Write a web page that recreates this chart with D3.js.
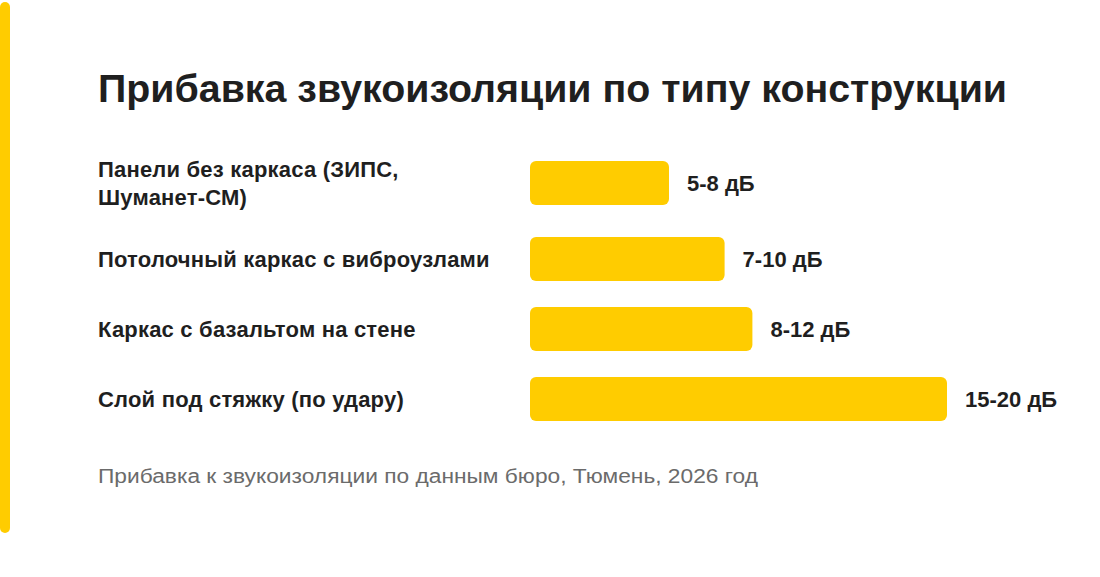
<!DOCTYPE html>
<html>
<head>
<meta charset="utf-8">
<script src="https://cdn.jsdelivr.net/npm/d3@7"></script>
<style>
  body { margin: 0; background: #fff; }
  svg { display: block; font-family: "Liberation Sans", Arial, Helvetica, sans-serif; }
</style>
</head>
<body>
<div id="chart_area"></div>
<script>
// data
var categories = [
    "Панели без каркаса (ЗИПС, Шуманет-СМ)",
    "Потолочный каркас с виброузлами",
    "Каркас с базальтом на стене",
    "Слой под стяжку (по удару)"
];
var lowValues = [5, 7, 8, 15];
var highValues = [8, 10, 12, 20];
var unit = "дБ";
var title = "Прибавка звукоизоляции по типу конструкции";
var note = "Прибавка к звукоизоляции по данным бюро, Тюмень, 2026 год";

var W = 1100, H = 577;
var left = 98, barX = 530, labelWidth = 410;
var barH = 44, lineH = 28, rowGap = 26, top0 = 155;
var fs = 22;
var yellow = "#ffcc00", ink = "#1f1f1f";

var svg = d3.select("#chart_area").append("svg").attr("width", W).attr("height", H);

// yellow accent strip on the left
svg.append("rect").attr("x", 0).attr("y", 2).attr("width", 10).attr("height", 531)
    .attr("rx", 5).attr("fill", yellow);

svg.append("text").attr("x", left).attr("y", 102)
    .attr("font-size", 38).attr("font-weight", "bold").attr("fill", ink)
    .attr("textLength", 909).attr("lengthAdjust", "spacingAndGlyphs")
    .text(title);

// bar length follows the lower bound of each range
var x = d3.scaleLinear().domain([0, d3.max(lowValues)]).range([0, 417]);

// wrap label text into lines
function wrapLines(str) {
    var tmp = svg.append("text").attr("font-size", fs).attr("font-weight", "bold").attr("letter-spacing", 0.2);
    var words = str.split(" "), lines = [], cur = "";
    words.forEach(w => {
        var test = cur ? cur + " " + w : w;
        tmp.text(test);
        if (tmp.node().getComputedTextLength() > labelWidth && cur) {
            lines.push(cur);
            cur = w;
        } else cur = test;
    });
    lines.push(cur);
    tmp.remove();
    return lines;
}

var rows = categories.map((c, i) => {
    var lines = wrapLines(c);
    return {name: c, lines: lines, lo: lowValues[i], hi: highValues[i], h: Math.max(barH, lines.length * lineH)};
});
var yy = top0;
rows.forEach(r => { r.y = yy; r.cy = yy + r.h / 2; yy += r.h + rowGap; });

var g = svg.selectAll(".row").data(rows).join("g").attr("class", "row");

g.append("text")
    .attr("font-size", fs).attr("font-weight", "bold").attr("letter-spacing", 0.2).attr("fill", ink)
    .each(function(d) {
        var t = d3.select(this);
        var y0 = d.cy - (d.lines.length - 1) * lineH / 2;
        d.lines.forEach((ln, k) => {
            t.append("tspan").attr("x", left).attr("y", y0 + k * lineH).attr("dy", "0.35em").text(ln);
        });
    });

g.append("rect")
    .attr("x", barX).attr("y", d => d.cy - barH / 2)
    .attr("width", d => x(d.lo)).attr("height", barH)
    .attr("rx", 6).attr("fill", yellow);

g.append("text")
    .attr("x", d => barX + x(d.lo) + 18).attr("y", d => d.cy).attr("dy", "0.35em")
    .attr("font-size", fs).attr("font-weight", "bold").attr("fill", ink)
    .text(d => d.lo + "-" + d.hi + " " + unit);

svg.append("text").attr("x", left).attr("y", 483)
    .attr("font-size", 20).attr("fill", "#6b6b6b")
    .attr("textLength", 660).attr("lengthAdjust", "spacingAndGlyphs")
    .text(note);
</script>
</body>
</html>
